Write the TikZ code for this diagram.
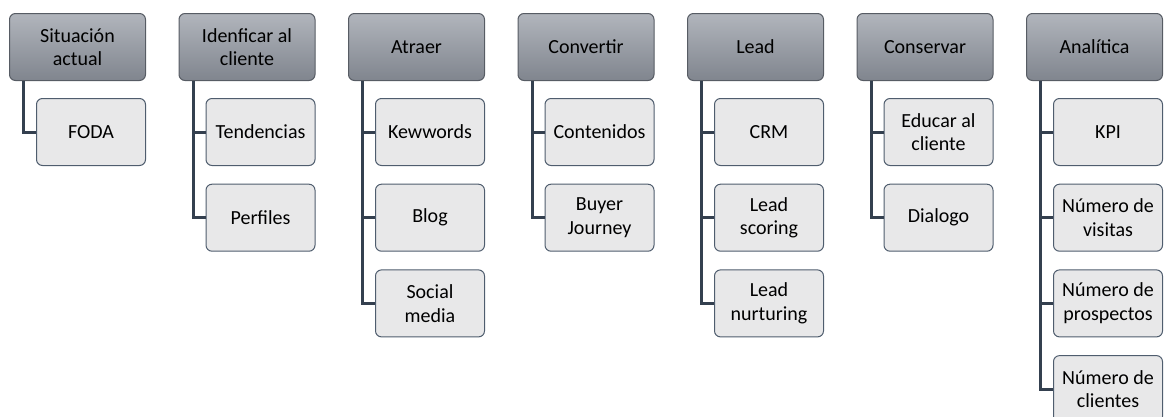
\documentclass[tikz,border=0pt]{standalone}
\usepackage{fontspec}
\setmainfont{Carlito}
\usetikzlibrary{positioning}
\definecolor{cabtop}{HTML}{B1B5BC}
\definecolor{cabbot}{HTML}{80858E}
\definecolor{cabline}{HTML}{575C64}
\definecolor{hojafill}{HTML}{E8E8E9}
\definecolor{hojaline}{HTML}{4F5D6E}
\definecolor{ramacol}{HTML}{34404F}
\tikzset{
	caja/.style = {align=center, rounded corners=6pt, inner sep=0pt,
		font=\fontsize{20}{23.5}\selectfont},
	cabeza/.style = {caja, anchor=north west, minimum width=136pt,
		minimum height=67pt, draw=cabline, line width=1pt,
		top color=cabtop, bottom color=cabbot},% nodo de primer nivel
	hoja/.style = {caja, minimum width=109pt, minimum height=67pt,
		draw=hojaline, line width=1pt, fill=hojafill},% nodo hijo
	rama/.style = {draw=ramacol, line width=3pt}% conector
}
\begin{document}
\begin{tikzpicture}[x=1pt,y=1pt]
\useasboundingbox (0,0) rectangle (1165,-416);
% primer nivel
\node[cabeza] (sit) at (9,-13) {Situación\\actual};
\node[cabeza] (cli) at (178.5,-13) {Idenficar al\\cliente};
\node[cabeza] (atr) at (348,-13) {Atraer};
\node[cabeza] (con) at (517.5,-13) {Convertir};
\node[cabeza] (lea) at (687,-13) {Lead};
\node[cabeza] (cns) at (856.5,-13) {Conservar};
\node[cabeza] (ana) at (1026,-13) {Analítica};
% hijos
\node[hoja, below right=17pt and 27pt of sit.south west, anchor=north west] (sit1) {FODA};

\node[hoja, below right=17pt and 27pt of cli.south west, anchor=north west] (cli1) {Tendencias};
\node[hoja, below=17.7pt of cli1] (cli2) {Perfiles};

\node[hoja, below right=17pt and 27pt of atr.south west, anchor=north west] (atr1) {Kewwords};
\node[hoja, below=17.7pt of atr1] (atr2) {Blog};
\node[hoja, below=17.7pt of atr2] (atr3) {Social\\media};

\node[hoja, below right=17pt and 27pt of con.south west, anchor=north west] (con1) {Contenidos};
\node[hoja, below=17.7pt of con1] (con2) {Buyer\\Journey};

\node[hoja, below right=17pt and 27pt of lea.south west, anchor=north west] (lea1) {CRM};
\node[hoja, below=17.7pt of lea1] (lea2) {Lead\\scoring};
\node[hoja, below=17.7pt of lea2] (lea3) {Lead\\nurturing};

\node[hoja, below right=17pt and 27pt of cns.south west, anchor=north west] (cns1) {Educar al\\cliente};
\node[hoja, below=17.7pt of cns1] (cns2) {Dialogo};

\node[hoja, below right=17pt and 27pt of ana.south west, anchor=north west] (ana1) {KPI};
\node[hoja, below=17.7pt of ana1] (ana2) {Número de\\visitas};
\node[hoja, below=17.7pt of ana2] (ana3) {Número de\\prospectos};
\node[hoja, below=17.7pt of ana3] (ana4) {Número de\\clientes};
% conectores
\draw[rama] ([xshift=14.5pt]sit.south west) |- (sit1.west);
\foreach \h in {cli1,cli2} \draw[rama] ([xshift=14.5pt]cli.south west) |- (\h.west);
\foreach \h in {atr1,atr2,atr3} \draw[rama] ([xshift=14.5pt]atr.south west) |- (\h.west);
\foreach \h in {con1,con2} \draw[rama] ([xshift=14.5pt]con.south west) |- (\h.west);
\foreach \h in {lea1,lea2,lea3} \draw[rama] ([xshift=14.5pt]lea.south west) |- (\h.west);
\foreach \h in {cns1,cns2} \draw[rama] ([xshift=14.5pt]cns.south west) |- (\h.west);
\foreach \h in {ana1,ana2,ana3,ana4} \draw[rama] ([xshift=14.5pt]ana.south west) |- (\h.west);
\end{tikzpicture}
\end{document}
